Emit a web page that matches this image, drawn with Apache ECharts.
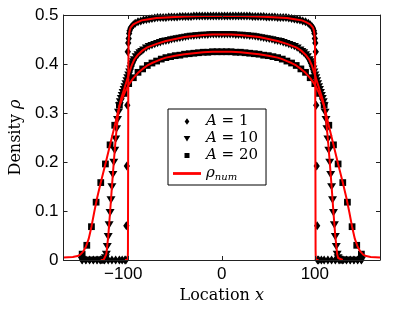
<!DOCTYPE html>
<html><head><meta charset="utf-8">
<script src="https://cdn.jsdelivr.net/npm/echarts@6/dist/echarts.min.js"></script>
<style>html,body{margin:0;padding:0;background:#fff}#c{width:415px;height:310px}</style>
</head><body><div id="c"></div>
<script>
// Axis ticks
const xTicks = [-100, 0, 100];

// Markers: A = 1 (diamonds)
const a1Points = [
[-150,0],[-146,0],[-142,0],[-138,0],[-134,0],[-130,0],[-126,0],[-122,0],[-118,0],[-114,0],[-110,0],[-107,0],[-104,0],[-103,0],
[-102.5,0.07],[-102,0.192],[-101.5,0.316],[-101,0.425],[-100.5,0.443],[-100,0.452],[-99.5,0.462],[-99,0.468],[-98,0.473],[-97,0.476],
[-95,0.48],[-93,0.483],[-90,0.486],[-87,0.488],[-84,0.49],[-81,0.491],[-78,0.492],[-75,0.493],[-72,0.494],[-69,0.495],[-66,0.495],
[-63,0.495],[-60,0.495],[-57,0.496],[-54,0.496],[-51,0.496],[-48,0.496],[-45,0.497],[-42,0.497],[-39,0.497],[-36,0.497],[-33,0.497],
[-30,0.498],[-27,0.498],[-24,0.498],[-21,0.498],[-18,0.498],[-15,0.498],[-12,0.498],[-9,0.498],[-6,0.498],[-3,0.498],[0,0.498],
[3,0.498],[6,0.498],[9,0.498],[12,0.498],[15,0.498],[18,0.498],[21,0.498],[24,0.498],[27,0.498],[30,0.498],[33,0.497],[36,0.497],
[39,0.497],[42,0.497],[45,0.497],[48,0.496],[51,0.496],[54,0.496],[57,0.496],[60,0.495],[63,0.495],[66,0.495],[69,0.495],[72,0.494],
[75,0.493],[78,0.492],[81,0.491],[84,0.49],[87,0.488],[90,0.486],[93,0.483],[95,0.48],[97,0.476],[98,0.473],[99,0.468],[99.5,0.462],
[100,0.452],[100.5,0.443],[101,0.425],[101.5,0.316],[102,0.192],[102.5,0.07],[103,0],[104,0],[107,0],[110,0],[114,0],[118,0],
[122,0],[126,0],[130,0],[134,0],[138,0],[142,0],[146,0],[150,0]
];

// Markers: A = 10 (down triangles)
const a10Points = [
[-150,0],[-146,0],[-142,0],[-138,0],[-134,0],[-131,0],[-129,0],[-128,0],[-127,0],[-126,0.002],[-125,0.005],[-124,0.012],[-123,0.028],
[-122,0.048],[-121,0.072],[-120,0.097],[-119,0.123],[-118,0.15],[-117,0.175],[-116,0.2],[-115,0.224],[-114,0.247],[-113,0.268],
[-112,0.287],[-111,0.302],[-110,0.315],[-109,0.323],[-108,0.33],[-107,0.336],[-106,0.342],[-105,0.348],[-104,0.354],[-103,0.36],
[-102,0.366],[-101,0.372],[-100,0.378],[-99,0.384],[-98,0.39],[-97,0.396],[-96,0.401],[-95,0.405],[-94,0.409],[-92,0.415],[-90,0.419],
[-88,0.423],[-86,0.426],[-84,0.429],[-81,0.433],[-78,0.436],[-75,0.438],[-72,0.44],[-69,0.442],[-66,0.444],[-63,0.446],[-60,0.447],
[-57,0.448],[-54,0.45],[-51,0.451],[-48,0.452],[-45,0.453],[-42,0.454],[-39,0.455],[-36,0.456],[-33,0.457],[-30,0.457],[-27,0.458],
[-24,0.458],[-21,0.459],[-18,0.459],[-15,0.459],[-12,0.46],[-9,0.46],[-6,0.46],[-3,0.46],[0,0.46],
[3,0.46],[6,0.46],[9,0.46],[12,0.46],[15,0.459],[18,0.459],[21,0.459],[24,0.458],[27,0.458],[30,0.457],[33,0.457],[36,0.456],
[39,0.455],[42,0.454],[45,0.453],[48,0.452],[51,0.451],[54,0.45],[57,0.448],[60,0.447],[63,0.446],[66,0.444],[69,0.442],[72,0.44],
[75,0.438],[78,0.436],[81,0.433],[84,0.429],[86,0.426],[88,0.423],[90,0.419],[92,0.415],[94,0.409],[95,0.405],[96,0.401],[97,0.396],
[98,0.39],[99,0.384],[100,0.378],[101,0.372],[102,0.366],[103,0.36],[104,0.354],[105,0.348],[106,0.342],[107,0.336],[108,0.33],
[109,0.323],[110,0.315],[111,0.302],[112,0.287],[113,0.268],[114,0.247],[115,0.224],[116,0.2],[117,0.175],[118,0.15],[119,0.123],
[120,0.097],[121,0.072],[122,0.048],[123,0.028],[124,0.012],[125,0.005],[126,0.002],[127,0],[128,0],[129,0],[131,0],[134,0],[138,0],
[142,0],[146,0],[150,0]
];

// Markers: A = 20 (squares)
const a20Points = [
[-150,0.012],[-145,0.03],[-140,0.068],[-135,0.118],[-130,0.158],[-125,0.196],[-120,0.235],[-115,0.275],[-110,0.316],[-105,0.34],
[-100,0.36],[-95,0.372],[-90,0.383],[-85,0.39],[-80,0.397],[-75,0.402],[-70,0.406],[-65,0.41],[-60,0.413],[-55,0.415],[-50,0.417],
[-45,0.418],[-40,0.42],[-35,0.421],[-30,0.422],[-25,0.423],[-20,0.424],[-15,0.424],[-10,0.425],[-5,0.425],[0,0.425],
[5,0.425],[10,0.425],[15,0.424],[20,0.424],[25,0.423],[30,0.422],[35,0.421],[40,0.42],[45,0.418],[50,0.417],[55,0.415],[60,0.413],
[65,0.41],[70,0.406],[75,0.402],[80,0.397],[85,0.39],[90,0.383],[95,0.372],[100,0.36],[105,0.34],[110,0.316],[115,0.275],[120,0.235],
[125,0.196],[130,0.158],[135,0.118],[140,0.068],[145,0.03],[150,0.012]
];

// Numerical solution curves (rho_num)
const num1 = [
[-104,0],[-101,0],[-100.8,0.02],[-100.6,0.2],[-100.4,0.38],[-100.1,0.445],[-99.5,0.462],[-99,0.468],[-98,0.474],[-97,0.477],[-95,0.481],
[-92,0.484],[-90,0.486],[-86,0.489],[-80,0.491],[-70,0.494],[-60,0.495],[-50,0.496],[-40,0.497],[-30,0.4975],[-20,0.498],[-10,0.498],[0,0.498],
[10,0.498],[20,0.498],[30,0.4975],[40,0.497],[50,0.496],[60,0.495],[70,0.494],[80,0.491],[86,0.489],[90,0.486],[92,0.484],[95,0.481],
[97,0.477],[98,0.474],[99,0.468],[99.5,0.462],[100.1,0.445],[100.4,0.38],[100.6,0.2],[100.8,0.02],[101,0],[104,0]
];
const num10 = [
[-130,0],[-127,0],[-125,0.004],[-124,0.012],[-122,0.048],[-120,0.097],[-118,0.15],[-116,0.2],[-114,0.247],[-112,0.287],[-110,0.315],
[-108,0.33],[-105,0.348],[-102,0.366],[-100,0.378],[-97,0.396],[-94,0.409],[-90,0.419],[-85,0.428],[-80,0.434],[-70,0.441],[-60,0.447],
[-50,0.451],[-40,0.455],[-30,0.457],[-20,0.459],[-10,0.46],[0,0.46],[10,0.46],[20,0.459],[30,0.457],[40,0.455],[50,0.451],[60,0.447],
[70,0.441],[80,0.434],[85,0.428],[90,0.419],[94,0.409],[97,0.396],[100,0.378],[102,0.366],[105,0.348],[108,0.33],[110,0.315],[112,0.287],
[114,0.247],[116,0.2],[118,0.15],[120,0.097],[122,0.048],[124,0.012],[125,0.004],[127,0],[130,0]
];
const num20 = [
[-170,0.005],[-160,0.006],[-155,0.008],[-152,0.011],[-149,0.017],[-146,0.027],[-143,0.043],[-140,0.068],[-137,0.098],[-134,0.126],
[-130,0.158],[-125,0.196],[-120,0.235],[-115,0.274],[-112,0.298],[-110,0.314],[-107,0.329],[-104,0.343],[-100,0.358],[-95,0.371],
[-90,0.382],[-85,0.39],[-80,0.397],[-75,0.402],[-70,0.406],[-65,0.41],[-60,0.413],[-50,0.417],[-40,0.42],[-30,0.422],[-20,0.424],
[-10,0.425],[0,0.425],[10,0.425],[20,0.424],[30,0.422],[40,0.42],[50,0.417],[60,0.413],[65,0.41],[70,0.406],[75,0.402],[80,0.397],
[85,0.39],[90,0.382],[95,0.371],[100,0.358],[104,0.343],[107,0.329],[110,0.314],[112,0.298],[115,0.274],[120,0.235],[125,0.196],
[130,0.158],[134,0.126],[137,0.098],[140,0.068],[143,0.043],[146,0.027],[149,0.017],[152,0.011],[155,0.008],[160,0.006],[170,0.005]
];

const legendText = {A1:'{i|A}{n| = 1}', A10:'{i|A}{n| = 10}', A20:'{i|A}{n| = 20}', rho:'{i|ρ}{s|num}'};

const diamondSym = 'path://M0,0M12,12M6,2L8.8,6L6,10L3.2,6Z';
const triSym = 'path://M0,0M12,12M2,3L10,3L6,9.5Z';
const squareSym = 'path://M0,0M12,12M3,3L9,3L9,9L3,9Z';
const lineIcon = 'path://M0,0M28,10M0,3.6L28,3.6L28,6.4L0,6.4Z';

const axisColor = '#222';
const serif = 'DejaVu Serif';

const chart = echarts.init(document.getElementById('c'), null, {renderer:'canvas'});
const scatter = (name, data, sym) => ({
  name, type:'scatter', data, symbol: sym, symbolSize: 13.5,
  itemStyle:{color:'#000', opacity:1}, z:2, clip:false
});
const numLine = (data) => ({
  name:'rho', type:'line', data, symbol:'none', showSymbol:false,
  lineStyle:{color:'#ff0000', width:2}, itemStyle:{color:'#ff0000'}, z:3
});

chart.setOption({
  animation:false,
  backgroundColor:'#fff',
  grid:{left:59, right:35, top:15, bottom:50, containLabel:false},
  xAxis:[{
    type:'value', min:-170, max:170, position:'bottom', z:5,
    axisLine:{onZero:false, lineStyle:{color:axisColor, width:1}},
    axisTick:{inside:true, length:4, customValues:xTicks, lineStyle:{color:axisColor}},
    axisLabel:{customValues:xTicks, margin:6, fontFamily:'Liberation Sans', fontSize:17, color:'#000',
      formatter: v => v < 0 ? '−' + Math.abs(v) + '{pad| }' : String(v),
      rich:{pad:{width:11, fontSize:17}}},
    splitLine:{show:false},
    name:'Location {i|x}', nameLocation:'middle', nameGap:23,
    nameTextStyle:{fontFamily:serif, fontSize:16, color:'#000', rich:{i:{fontFamily:serif, fontStyle:'italic', fontSize:16, color:'#000'}}}
  },{
    type:'value', min:-170, max:170, position:'top', z:5,
    axisLine:{onZero:false, lineStyle:{color:axisColor, width:1}},
    axisTick:{inside:true, length:4, customValues:xTicks, lineStyle:{color:axisColor}},
    axisLabel:{show:false}, splitLine:{show:false}
  }],
  yAxis:[{
    type:'value', min:0, max:0.5, interval:0.1, position:'left', z:5,
    axisLine:{show:true, onZero:false, lineStyle:{color:axisColor, width:1}},
    axisTick:{show:true, inside:true, length:4, lineStyle:{color:axisColor}},
    axisLabel:{margin:5, fontFamily:'Liberation Sans', fontSize:17, color:'#000'},
    splitLine:{show:false},
    name:'Density {i|ρ}', nameLocation:'middle', nameGap:38,
    nameTextStyle:{fontFamily:serif, fontSize:16, color:'#000', rich:{i:{fontFamily:serif, fontStyle:'italic', fontSize:16, color:'#000'}}}
  },{
    type:'value', min:0, max:0.5, interval:0.1, position:'right', z:5,
    axisLine:{show:true, onZero:false, lineStyle:{color:axisColor, width:1}},
    axisTick:{show:true, inside:true, length:4, lineStyle:{color:axisColor}},
    axisLabel:{show:false}, splitLine:{show:false}
  }],
  legend:{
    orient:'vertical', left:168, top:109, z:10,
    data:[{name:'A1', icon:diamondSym},{name:'A10', icon:triSym},{name:'A20', icon:squareSym},
          {name:'rho', icon:lineIcon, itemStyle:{color:'#ff0000'}}],
    itemWidth:28, itemHeight:10, itemGap:2,
    padding:[5,8,3,5], borderColor:'#000', borderWidth:1, backgroundColor:'#fff',
    formatter: name => legendText[name],
    textStyle:{fontFamily:serif, fontSize:15, color:'#000', lineHeight:15,
      rich:{
        i:{fontFamily:serif, fontStyle:'italic', fontSize:15, color:'#000', lineHeight:15},
        n:{fontFamily:serif, fontSize:15, color:'#000', lineHeight:15},
        s:{fontFamily:serif, fontStyle:'italic', fontSize:10, color:'#000', lineHeight:15, padding:[7,0,0,0]}
      }}
  },
  series:[
    scatter('A1', a1Points, diamondSym),
    scatter('A10', a10Points, triSym),
    scatter('A20', a20Points, squareSym),
    numLine(num1), numLine(num10), numLine(num20)
  ]
});
</script></body></html>
